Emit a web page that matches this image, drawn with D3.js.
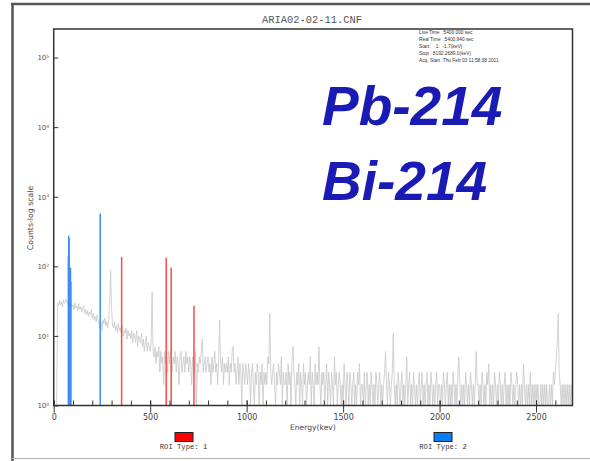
<!DOCTYPE html>
<html>
<head>
<meta charset="utf-8">
<script src="https://cdn.jsdelivr.net/npm/d3@7/dist/d3.min.js"></script>
<style>
  html, body { margin: 0; padding: 0; background: #fff; }
  svg { display: block; }
</style>
</head>
<body>
<svg id="chart" width="590" height="461"></svg>
<script>
// ---------------- DATA ----------------
const chartTitle = "ARIA02-02-11.CNF";
const infoLines = [
  "Live Time  :5400.000 sec",
  "Real Time  :5400.940 sec",
  "Start:    1:  -1.7(keV)",
  "Stop : 8192:2689.0(keV)",
  "Acq. Start :Thu Feb 03 11:58:38 2011"
];
const nuclideLabels = ["Pb-214", "Bi-214"];
const xTickValues = [0, 500, 1000, 1500, 2000, 2500];
const xMinorTickValues = [0,100,200,300,400,500,600,700,800,900,1000,1100,1200,1300,1400,1500,1600,1700,1800,1900,2000,2100,2200,2300,2400,2500,2600];
const yTickValues = [1, 10, 100, 1000, 10000, 100000];
const yTickExponents = ["0", "1", "2", "3", "4", "5"];
const energyMaxKeV = 2689;
const binWidthKeV = 5;

// background spectrum, counts per 5 keV bin starting at 0 keV (one row = 100 keV)
const spectrumCounts = [
  1, 1, 1, 1, 30, 27, 32, 28, 31, 26, 33, 29, 30, 34, 31, 28, 33, 27, 29, 26,
  28, 24, 30, 25, 27, 23, 29, 24, 26, 22, 25, 27, 21, 24, 20, 23, 19, 22, 20, 24,
  18, 21, 17, 19, 16, 20, 17, 15, 13, 16, 12, 17, 15, 18, 14, 16, 13, 17, 30, 87,
  25, 14, 13, 16, 12, 14, 11, 15, 12, 13, 11, 14, 10, 12, 11, 13, 9, 12, 10, 11,
  9, 12, 8, 11, 10, 8, 12, 7, 10, 9, 8, 11, 7, 9, 6, 8, 10, 6, 8, 7,
  6, 8, 43, 6, 5, 7, 4, 6, 5, 7, 3, 6, 4, 5, 2, 6, 4, 5, 3, 6,
  4, 6, 5, 3, 5, 4, 6, 3, 5, 4, 2, 5, 6, 3, 4, 5, 3, 6, 4, 5,
  3, 5, 4, 2, 5, 4, 3, 6, 1, 4, 3, 5, 4, 6, 9, 3, 4, 5, 3, 4,
  5, 3, 4, 2, 5, 3, 4, 6, 3, 4, 2, 5, 17, 4, 3, 5, 2, 4, 3, 4,
  3, 5, 2, 4, 3, 6, 7, 3, 4, 2, 3, 5, 2, 4, 3, 1, 4, 3, 2, 4,
  3, 2, 4, 3, 1, 3, 4, 2, 1, 3, 2, 4, 3, 1, 3, 2, 4, 1, 3, 2,
  3, 2, 5, 4, 21, 3, 2, 3, 4, 2, 1, 3, 2, 4, 3, 2, 5, 1, 3, 2,
  2, 3, 1, 4, 2, 3, 1, 4, 7, 3, 2, 1, 3, 2, 4, 1, 3, 2, 1, 4,
  2, 3, 1, 2, 3, 2, 5, 1, 3, 2, 1, 4, 2, 3, 2, 7, 2, 1, 3, 2,
  3, 1, 2, 4, 1, 3, 2, 1, 3, 2, 1, 5, 2, 3, 1, 2, 3, 2, 1, 2,
  1, 4, 2, 1, 3, 2, 1, 3, 2, 1, 2, 3, 1, 2, 1, 3, 2, 4, 1, 2,
  2, 1, 3, 1, 2, 3, 1, 2, 1, 3, 2, 1, 2, 1, 3, 2, 1, 2, 3, 1,
  2, 1, 2, 3, 6, 2, 1, 3, 2, 1, 2, 3, 11, 2, 1, 2, 1, 3, 2, 1,
  2, 3, 1, 2, 1, 2, 5, 1, 2, 3, 1, 2, 1, 3, 2, 1, 2, 1, 2, 3,
  1, 2, 3, 1, 2, 1, 2, 3, 1, 2, 1, 3, 2, 1, 2, 1, 2, 3, 1, 2,
  2, 1, 2, 1, 3, 2, 1, 2, 3, 1, 2, 1, 2, 1, 3, 2, 1, 2, 1, 3,
  5, 2, 1, 2, 1, 2, 1, 3, 2, 1, 2, 1, 3, 2, 1, 2, 1, 2, 6, 2,
  2, 1, 2, 1, 3, 2, 1, 2, 1, 3, 2, 4, 1, 2, 1, 2, 1, 3, 2, 1,
  2, 1, 3, 2, 1, 2, 1, 2, 3, 1, 2, 1, 2, 1, 3, 2, 1, 2, 1, 2,
  3, 2, 1, 2, 1, 2, 1, 4, 2, 1, 2, 1, 2, 1, 3, 1, 2, 1, 2, 1,
  2, 1, 2, 1, 1, 2, 1, 2, 1, 2, 1, 2, 1, 1, 2, 1, 2, 1, 3, 2,
  3, 5, 8, 21, 3, 2, 1, 2, 1, 2, 1, 2, 1, 2, 1, 2, 1, 2
];

// ROI Type 1 (red) peaks
const roi1Energies = [352, 583, 609, 727];
const roi1Counts = [136, 133, 95, 27];
// ROI Type 2 (blue) peaks
const roi2Energies = [76, 78, 80, 84, 87, 89, 241];
const roi2Counts = [140, 274, 250, 95, 95, 60, 575];

const legendLabels = ["ROI Type: 1", "ROI Type: 2"];
const legendColors = ["#ff0000", "#0a7cf5"];

// ---------------- DRAW ----------------
const svg = d3.select("#chart");
const W = 590, H = 461;
const plot = { left: 53.7, right: 572.5, top: 29, bottom: 405.5 };

svg.append("rect").attr("width", W).attr("height", H).attr("fill", "#fff");

// outer frame
svg.append("line").attr("x1", 11).attr("x2", 590).attr("y1", 4).attr("y2", 4)
  .attr("stroke", "#555").attr("stroke-width", 2.5);
svg.append("line").attr("x1", 12.5).attr("x2", 12.5).attr("y1", 3).attr("y2", 461)
  .attr("stroke", "#555").attr("stroke-width", 2.5);
svg.append("line").attr("x1", 12).attr("x2", 590).attr("y1", 458.5).attr("y2", 458.5)
  .attr("stroke", "#b0b0b0").attr("stroke-width", 1.2);

const x = d3.scaleLinear().domain([0, energyMaxKeV]).range([plot.left, plot.right]);
const y = d3.scaleLog().domain([1, Math.pow(10, 5.41)]).range([plot.bottom, plot.top]);

svg.append("defs").append("clipPath").attr("id", "clip")
  .append("rect").attr("x", plot.left).attr("y", plot.top)
  .attr("width", plot.right - plot.left).attr("height", plot.bottom - plot.top);

const g = svg.append("g").attr("clip-path", "url(#clip)");

// spectrum line
const spec = spectrumCounts.map((c, i) => ({ e: i * binWidthKeV, c: c }));
g.append("path").datum(spec)
  .attr("fill", "none").attr("stroke", "#c8c8c8").attr("stroke-width", 0.8)
  .attr("d", d3.line().x(d => x(d.e)).y(d => y(Math.max(1, d.c))));

// ROI lines
const roi1 = roi1Energies.map((e, i) => ({ e, c: roi1Counts[i] }));
const roi2 = roi2Energies.map((e, i) => ({ e, c: roi2Counts[i] }));
g.selectAll(".roi1").data(roi1).enter().append("line")
  .attr("x1", d => x(d.e)).attr("x2", d => x(d.e))
  .attr("y1", y(1)).attr("y2", d => y(d.c))
  .attr("stroke", "#ff4848").attr("stroke-width", 1.5);
g.selectAll(".roi2").data(roi2).enter().append("line")
  .attr("x1", d => x(d.e)).attr("x2", d => x(d.e))
  .attr("y1", y(1)).attr("y2", d => y(d.c))
  .attr("stroke", "#3c8ef5").attr("stroke-width", 1.5);

// plot frame
svg.append("rect").attr("x", plot.left).attr("y", plot.top)
  .attr("width", plot.right - plot.left).attr("height", plot.bottom - plot.top)
  .attr("fill", "none").attr("stroke", "#333").attr("stroke-width", 1.5);

// x axis: minor ticks inside
const xMinor = svg.append("g").attr("transform", `translate(0,${plot.bottom})`)
  .call(d3.axisBottom(x).tickValues(xMinorTickValues).tickSize(-5).tickFormat(""));
xMinor.select(".domain").remove();
xMinor.selectAll("line").attr("stroke", "#333");
// x axis: major ticks + labels
const xMajor = svg.append("g").attr("transform", `translate(0,${plot.bottom})`)
  .call(d3.axisBottom(x).tickValues(xTickValues).tickSizeInner(7).tickSizeOuter(0).tickPadding(2).tickFormat(d3.format("d")));
xMajor.select(".domain").remove();
xMajor.selectAll("line").attr("stroke", "#333").attr("y1", -5);
xMajor.selectAll("text").attr("font-family", "'DejaVu Sans', sans-serif")
  .attr("font-size", 8).attr("fill", "#444");

svg.append("text").attr("x", 290).attr("y", 430)
  .attr("font-family", "'DejaVu Sans', sans-serif").attr("font-size", 7.6).attr("fill", "#444")
  .text("Energy(kev)");

// y axis
const yAx = svg.append("g").attr("transform", `translate(${plot.left},0)`)
  .call(d3.axisLeft(y).tickValues(yTickValues).tickSizeInner(3.5).tickSizeOuter(0).tickPadding(2).tickFormat(""));
yAx.select(".domain").remove();
yAx.selectAll("line").attr("stroke", "#333").attr("x2", 4.5);
yAx.selectAll(".tick").each(function(d, i) {
  const t = d3.select(this).append("text")
    .attr("x", -4.5).attr("dy", "0.35em").attr("text-anchor", "end")
    .attr("font-family", "'DejaVu Sans', sans-serif").attr("font-size", 7).attr("fill", "#555");
  t.append("tspan").text("10");
  t.append("tspan").attr("font-size", 4.5).attr("dy", "-0.5em").text(yTickExponents[i]);
});

svg.append("text")
  .attr("transform", `translate(33,218) rotate(-90)`)
  .attr("text-anchor", "middle")
  .attr("font-family", "'DejaVu Sans', sans-serif").attr("font-size", 7.8).attr("fill", "#444")
  .text("Counts-log scale");

// title
svg.append("text").attr("x", 312).attr("y", 23).attr("text-anchor", "middle")
  .attr("font-family", "'Liberation Mono', monospace").attr("font-size", 10.4).attr("fill", "#555")
  .text(chartTitle);

// info block
svg.selectAll(".info").data(infoLines).enter().append("text")
  .attr("x", 419).attr("y", (d, i) => 33.5 + i * 7)
  .attr("font-family", "'Liberation Sans', sans-serif").attr("font-size", 4.8).attr("fill", "#333")
  .attr("xml:space", "preserve")
  .text(d => d);

// nuclide labels
svg.selectAll(".nuc").data(nuclideLabels).enter().append("text")
  .attr("x", 322).attr("y", (d, i) => 125 + i * 75)
  .attr("font-family", "'Liberation Sans', Arial, sans-serif").attr("font-size", 55)
  .attr("font-weight", "bold").attr("font-style", "italic").attr("fill", "#1a1ab4")
  .text(d => d);

// legend
const legendX = [175, 434];
const legendTextX = [183.5, 443];
legendLabels.forEach((lab, i) => {
  svg.append("rect").attr("x", legendX[i]).attr("y", 432.5).attr("width", 18).attr("height", 9)
    .attr("fill", legendColors[i]).attr("stroke", "#222").attr("stroke-width", 1);
  svg.append("text").attr("x", legendTextX[i]).attr("y", 449).attr("text-anchor", "middle")
    .attr("font-family", "'Liberation Mono', monospace").attr("font-size", 7.2).attr("fill", "#333")
    .text(lab);
});
</script>
</body>
</html>
